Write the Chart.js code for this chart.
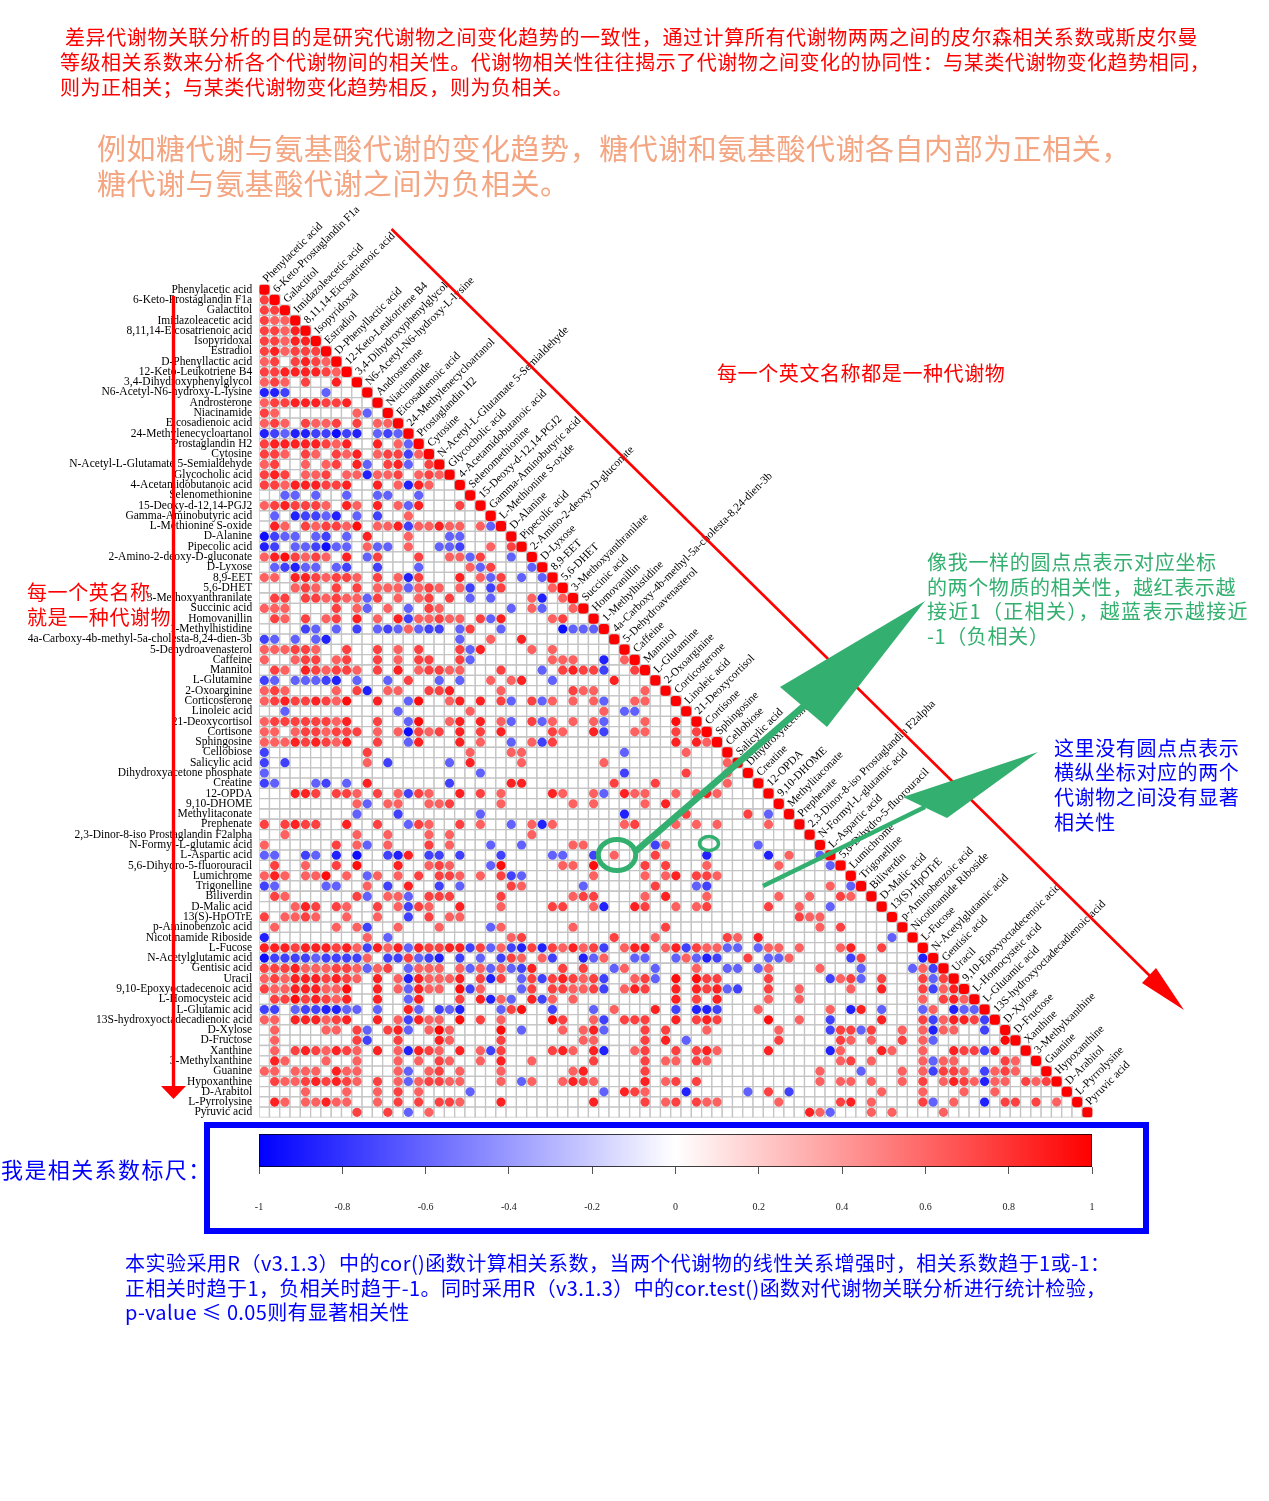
<!DOCTYPE html>
<html>
<head>
<meta charset="utf-8">
<script src="https://cdn.jsdelivr.net/npm/chart.js@4/dist/chart.umd.js"></script>
<style>
  html, body { margin: 0; padding: 0; background: #fff; }
  #page { position: relative; width: 1269px; height: 1501px; overflow: hidden; }
  canvas { position: absolute; }
  .note { position: absolute; white-space: nowrap; font-family: "Noto Sans CJK SC", sans-serif; line-height: 26px; }
  #frame { position: absolute; left: 204px; top: 1122px; width: 933px; height: 100px; border: 6px solid #0000ff; }
</style>
</head>
<body>
<div id="page">
  <canvas id="corr"></canvas>
  <div id="frame"></div>
  <canvas id="scaleBar"></canvas>
  <div id="notes"></div>
</div>
<script>
// metabolite names, same order on both axes
const names = [
  'Phenylacetic acid', '6-Keto-Prostaglandin F1a', 'Galactitol', 'Imidazoleacetic acid', '8,11,14-Eicosatrienoic acid',
  'Isopyridoxal', 'Estradiol', 'D-Phenyllactic acid', '12-Keto-Leukotriene B4', '3,4-Dihydroxyphenylglycol',
  'N6-Acetyl-N6-hydroxy-L-lysine', 'Androsterone', 'Niacinamide', 'Eicosadienoic acid', '24-Methylenecycloartanol',
  'Prostaglandin H2', 'Cytosine', 'N-Acetyl-L-Glutamate 5-Semialdehyde', 'Glycocholic acid', '4-Acetamidobutanoic acid',
  'Selenomethionine', '15-Deoxy-d-12,14-PGJ2', 'Gamma-Aminobutyric acid', 'L-Methionine S-oxide', 'D-Alanine',
  'Pipecolic acid', '2-Amino-2-deoxy-D-gluconate', 'D-Lyxose', '8,9-EET', '5,6-DHET',
  '3-Methoxyanthranilate', 'Succinic acid', 'Homovanillin', '1-Methylhistidine', '4a-Carboxy-4b-methyl-5a-cholesta-8,24-dien-3b',
  '5-Dehydroavenasterol', 'Caffeine', 'Mannitol', 'L-Glutamine', '2-Oxoarginine',
  'Corticosterone', 'Linoleic acid', '21-Deoxycortisol', 'Cortisone', 'Sphingosine',
  'Cellobiose', 'Salicylic acid', 'Dihydroxyacetone phosphate', 'Creatine', '12-OPDA',
  '9,10-DHOME', 'Methylitaconate', 'Prephenate', '2,3-Dinor-8-iso Prostaglandin F2alpha', 'N-Formyl-L-glutamic acid',
  'L-Aspartic acid', '5,6-Dihydro-5-fluorouracil', 'Lumichrome', 'Trigonelline', 'Biliverdin',
  'D-Malic acid', '13(S)-HpOTrE', 'p-Aminobenzoic acid', 'Nicotinamide Riboside', 'L-Fucose',
  'N-Acetylglutamic acid', 'Gentisic acid', 'Uracil', '9,10-Epoxyoctadecenoic acid', 'L-Homocysteic acid',
  'L-Glutamic acid', '13S-hydroxyoctadecadienoic acid', 'D-Xylose', 'D-Fructose', 'Xanthine',
  '3-Methylxanthine', 'Guanine', 'Hypoxanthine', 'D-Arabitol', 'L-Pyrrolysine', 'Pyruvic acid'
];

// significant correlations per row, "column:r in percent"
const corrRows = [
  '0:100',
  '0:75 1:100',
  '0:75 1:75 2:100',
  '0:75 1:62 2:62 3:100',
  '0:75 1:75 2:62 3:87 4:100',
  '0:75 1:75 2:62 3:87 4:87 5:100',
  '0:75 1:87 2:62 3:75 4:75 5:75 6:100',
  '0:62 1:75 3:75 4:87 5:75 6:62 7:100',
  '0:75 1:75 2:87 3:87 4:87 5:87 6:75 7:62 8:100',
  '0:62 1:75 2:62 4:75 7:87 9:100',
  '0:-87 1:-87 2:-75 6:-62 10:100',
  '0:62 1:75 2:75 3:87 4:87 5:87 6:75 7:75 8:87 11:100',
  '0:75 1:62 9:62 10:-62 12:100',
  '0:62 1:75 2:62 4:75 5:62 6:62 7:75 9:75 11:62 12:62 13:100',
  '0:-87 1:-75 2:-62 3:-87 4:-87 5:-75 6:-75 7:-95 8:-75 9:-87 11:-62 12:-75 13:-62 14:100',
  '0:75 1:87 2:87 3:87 4:87 5:87 6:75 7:62 8:87 11:87 13:62 14:-62 15:100',
  '0:75 1:75 2:62 4:75 5:62 7:75 8:62 9:87 11:62 12:75 13:75 14:-75 15:62 16:100',
  '0:62 1:75 4:62 6:62 7:75 9:87 10:-62 12:75 13:87 14:-62 16:75 17:100',
  '0:75 1:87 2:75 4:62 5:62 6:75 8:62 9:62 10:-87 11:62 12:62 13:75 15:62 16:75 17:62 18:100',
  '0:75 1:75 2:62 3:87 4:87 5:87 6:75 7:75 8:87 11:87 13:62 14:-87 15:87 16:62 19:100',
  '2:-62 3:-62 5:-62 8:-62 11:-62 12:-62 15:-62 20:100',
  '0:62 1:75 2:87 3:75 4:75 5:75 6:62 8:87 9:62 11:87 13:62 14:-62 15:87 19:75 21:100',
  '1:-62 3:-87 4:-75 5:-75 6:-62 7:-87 9:-62 11:-75 14:62 22:100',
  '1:87 2:62 4:75 5:62 6:75 7:75 8:62 9:95 11:62 12:62 13:87 14:-75 15:62 16:62 17:87 18:62 19:62 21:62 22:-62 23:100',
  '0:-95 1:-75 2:-62 3:-62 5:-62 6:-75 8:-62 10:87 14:62 18:-62 19:-62 24:100',
  '0:-87 1:-75 3:-62 4:-62 5:-75 6:-95 7:-62 8:-62 10:62 11:-62 12:-62 14:62 17:-62 18:-62 19:-75 22:62 24:75 25:100',
  '0:62 1:87 2:95 3:75 4:62 5:75 6:62 8:87 10:-62 11:75 15:75 18:62 19:62 20:-62 21:75 24:-62 26:100',
  '1:-62 2:-75 3:-87 4:-62 5:-62 7:-62 8:-75 11:-75 15:-62 20:62 21:-62 22:75 26:-62 27:100',
  '0:62 1:62 3:87 4:87 5:75 6:62 7:75 8:75 9:62 11:75 13:62 14:-87 15:75 19:87 21:62 22:-62 23:75 25:-62 27:-62 28:100',
  '3:62 4:75 5:62 7:75 9:75 11:62 12:62 13:62 14:-62 15:62 16:75 17:62 19:62 20:-75 22:-75 23:75 28:62 29:100',
  '1:75 2:75 4:75 5:75 6:62 7:75 8:62 9:62 10:-62 11:75 13:62 15:62 16:75 18:75 20:-62 22:-62 26:62 27:-87 29:62 30:100',
  '0:62 1:62 2:62 7:75 9:62 10:-62 12:62 14:-62 16:75 17:62 24:-62 26:62 27:-62 30:62 31:100',
  '1:75 2:62 4:75 6:62 7:75 9:87 11:62 13:87 14:-75 15:62 16:62 17:75 18:62 19:62 21:75 22:-62 23:87 28:62 29:75 32:100',
  '4:-75 5:-62 7:-62 9:-75 11:-62 12:-75 13:-62 14:62 15:-62 16:-75 17:-75 19:-62 20:75 23:-62 29:-95 30:-62 31:-62 32:-62 33:100',
  '0:-75 1:-62 3:-62 5:-62 6:-87 19:-62 22:62 25:87 34:100',
  '0:62 1:62 2:62 3:75 4:75 5:62 8:75 11:75 13:62 15:75 19:75 20:-62 21:87 26:62 28:62 35:100',
  '0:62 3:62 4:75 5:75 7:62 8:75 11:75 13:62 15:75 16:75 19:75 20:-62 28:62 29:62 30:62 33:-87 35:62 36:100',
  '1:75 2:62 4:87 5:75 6:62 7:75 8:75 9:62 11:75 13:87 15:62 16:75 17:75 18:62 19:62 23:75 27:-62 29:75 30:87 31:75 32:75 33:-75 36:75 37:100',
  '0:-75 1:-62 3:-62 4:-62 5:-62 6:-75 7:-87 9:-62 12:-62 14:75 17:-62 19:-62 22:62 24:62 25:87 28:-62 34:87 38:100',
  '0:62 1:75 2:62 7:62 9:75 10:-87 12:62 13:62 16:75 17:75 18:87 23:62 30:75 31:62 32:62 37:62 39:100',
  '0:62 1:75 2:87 3:75 4:75 5:87 6:75 7:62 8:95 11:87 14:-62 15:95 18:62 19:87 21:87 23:75 24:-62 26:75 27:-62 28:62 30:62 32:62 33:-62 36:62 37:62 40:100',
  '2:-62 13:-62 20:62 33:62 35:-62 36:-62 41:100',
  '0:62 1:75 2:75 3:75 4:75 5:75 6:75 7:62 8:87 11:75 14:-62 15:95 18:62 19:87 21:87 23:62 24:-62 26:75 27:-62 28:62 30:62 32:62 33:-62 37:62 40:95 42:100',
  '0:62 1:62 3:62 4:75 5:75 6:62 7:75 8:75 9:75 11:62 13:62 14:-95 15:75 16:62 17:75 19:87 21:75 23:87 28:75 29:62 32:87 33:-75 36:62 37:62 40:75 42:75 43:100',
  '0:62 1:62 2:62 3:87 4:75 5:87 6:75 7:62 8:87 11:75 14:-62 15:87 19:87 21:62 24:-62 26:62 27:-75 28:75 40:87 42:87 43:62 44:100',
  '0:-75 10:75 20:62 24:62 25:62 35:-62 41:62 45:100',
  '0:-75 2:-75 10:62 12:-75 18:-62 20:87 25:62 33:62 45:62 46:100',
  '0:-62 21:-62 35:-75 41:75 45:62 47:100',
  '0:-75 1:-62 5:-62 6:-75 8:-62 10:87 18:-75 24:87 25:87 34:75 38:75 45:62 48:100',
  '3:87 4:87 5:75 7:75 8:75 9:62 11:75 13:62 14:-75 15:75 16:62 19:87 21:75 23:62 28:87 29:62 32:62 33:-62 35:87 36:62 37:62 40:62 42:62 43:87 44:62 49:100',
  '9:62 10:-62 12:62 13:62 16:62 17:62 18:75 23:62 30:62 32:62 37:62 39:87 50:100',
  '9:-62 13:-75 21:-62 35:-87 41:75 47:75 49:-62 51:100',
  '0:75 2:75 3:87 4:75 5:75 8:87 11:75 14:-62 15:75 16:62 19:75 21:62 24:-62 26:62 27:-87 28:62 35:62 36:75 40:62 42:62 44:62 49:62 52:100',
  '2:62 9:62 12:62 16:62 18:62 26:62 53:100',
  '0:62 7:75 9:62 10:-62 12:62 16:75 18:62 22:-62 25:-62 30:62 31:62 38:-75 39:62 48:-62 54:100',
  '0:-62 1:-62 4:-75 5:-62 7:-87 9:-95 12:-75 13:-87 14:87 16:-75 17:-75 19:-75 23:-75 28:-62 29:-62 32:-75 34:62 38:75 43:-87 49:-87 51:62 54:-62 55:100',
  '1:75 4:62 7:75 9:95 13:87 16:62 17:75 18:62 22:-62 23:95 29:62 30:62 32:95 37:75 39:75 43:62 50:62 55:-62 56:100',
  '0:62 1:87 2:62 4:62 5:62 6:95 8:62 10:-62 11:62 13:62 15:75 17:75 18:75 19:62 21:62 23:75 24:-75 25:-62 32:62 37:62 39:62 40:87 42:75 43:75 44:62 57:100',
  '0:-75 1:-62 6:-62 7:-62 10:62 12:-75 14:87 17:-75 19:-62 24:75 25:62 31:-62 38:75 42:-62 43:-75 55:62 57:-62 58:100',
  '1:75 2:62 9:75 10:-62 12:62 13:62 14:-62 16:75 17:75 18:75 23:75 30:62 31:75 32:75 37:62 39:87 43:62 50:62 53:62 56:75 57:62 59:100',
  '3:62 4:87 5:75 7:75 8:62 11:75 13:62 14:-75 15:75 16:62 19:87 23:62 28:75 29:75 32:62 33:-87 36:87 37:75 40:62 42:62 43:75 49:75 52:62 55:-62 60:100',
  '0:75 2:62 3:62 4:75 5:62 8:62 11:62 14:-75 16:75 18:62 19:62 52:75 53:62 54:62 61:100',
  '1:62 7:62 9:62 10:-75 13:62 17:62 22:-62 23:62 30:62 39:75 54:62 56:75 62:100',
  '0:-87 10:62 12:-62 24:62 25:75 34:75 38:62 45:75 46:62 48:87 61:-62 63:100',
  '0:87 1:87 2:87 3:75 4:87 5:87 6:87 7:75 8:87 9:62 10:-75 11:87 12:62 13:87 14:-62 15:87 16:75 17:75 18:87 19:87 20:-75 21:75 22:-62 23:62 24:-75 25:-87 26:75 27:-87 28:75 29:62 30:87 31:62 32:75 33:-75 35:62 36:87 37:87 39:62 40:87 41:-75 42:75 43:62 44:62 45:-62 46:-62 48:-62 49:62 50:62 52:62 56:62 57:87 60:75 64:100',
  '0:-95 1:-75 2:-75 3:-75 4:-75 5:-62 6:-75 7:-75 8:-75 9:-75 10:62 12:-75 13:-75 14:75 15:-62 16:-75 17:-87 19:-75 21:-62 23:-75 24:75 25:62 27:62 28:-75 31:-87 32:-62 33:62 36:-62 37:-62 40:-62 41:62 42:-62 43:-87 44:-75 47:75 49:-62 50:-62 51:62 57:-75 58:75 64:-87 65:100',
  '0:75 1:75 2:75 3:87 4:62 5:62 6:62 7:75 8:75 9:62 10:-62 11:62 12:75 14:-62 15:62 16:62 17:62 19:62 20:-62 21:62 22:-62 23:62 24:-62 25:-75 26:87 29:75 31:75 34:-62 35:62 38:-62 42:62 45:-62 46:-62 48:-62 49:62 54:62 58:-62 63:-62 64:62 65:-75 66:100',
  '0:62 1:75 2:62 3:87 4:87 5:87 6:75 7:87 8:75 9:62 11:87 13:62 14:-87 15:87 16:62 17:62 18:62 19:87 21:75 22:-87 23:75 25:-62 26:75 27:-75 28:75 29:87 30:75 31:62 32:75 33:-75 36:62 37:75 38:-62 40:95 42:95 43:75 44:75 49:75 55:-75 56:62 57:75 58:-62 60:75 64:75 65:-62 66:75 67:100',
  '0:75 1:62 2:62 3:87 4:87 5:87 6:62 7:62 8:95 11:87 13:62 14:-62 15:87 16:62 17:62 19:95 20:-75 21:62 25:-62 26:75 28:75 29:75 30:62 31:62 32:75 33:-75 35:62 36:87 37:75 40:87 42:87 43:75 44:87 45:-62 46:-75 49:75 52:62 57:62 60:87 64:75 65:-75 66:62 67:87 68:100',
  '1:75 2:75 3:95 4:75 5:87 6:75 7:62 8:87 11:87 14:-62 15:87 19:75 21:87 22:-87 23:62 24:-62 26:87 27:-75 28:62 30:62 40:87 42:75 44:87 49:62 52:62 64:62 66:75 67:87 68:62 69:100',
  '0:-75 1:-75 3:-62 4:-75 5:-75 6:-87 7:-87 8:-62 9:-62 11:-62 14:87 15:-62 17:-75 18:-62 19:-87 23:-62 24:75 25:95 28:-75 32:-62 34:62 38:87 40:-75 42:-87 43:-87 44:-75 48:62 55:62 57:-87 58:87 60:-62 64:-62 65:62 67:-87 68:-62 69:-62 70:100',
  '0:62 1:62 3:87 4:87 5:87 6:62 7:75 8:87 11:87 13:62 14:-75 15:87 16:62 17:62 19:95 21:75 23:62 28:95 29:75 32:62 33:-75 35:75 36:75 37:75 40:87 42:75 43:87 44:75 49:95 52:62 55:-75 60:87 64:75 65:-75 66:62 67:87 68:87 69:75 70:-75 71:100',
  '1:62 6:62 7:62 9:75 10:-62 12:75 13:87 14:-62 16:62 17:98 18:62 23:95 25:-62 29:62 31:62 32:87 33:-62 37:75 39:75 43:62 50:62 55:-75 56:75 57:75 58:-62 59:75 62:62 64:62 65:-87 66:62 67:62 70:-75 72:100',
  '1:62 9:75 10:-75 13:75 17:87 18:62 23:75 31:62 32:62 37:75 39:87 41:-62 50:75 56:75 57:62 59:62 62:75 64:62 65:-62 72:98 73:100',
  '1:62 3:75 4:87 5:75 6:62 7:87 8:75 9:62 11:87 13:62 14:-87 15:87 16:75 17:62 19:87 21:62 22:-75 23:75 28:75 29:87 30:62 32:87 33:-87 36:62 37:75 40:75 42:75 43:87 44:62 49:87 55:-87 56:62 60:87 61:62 64:62 67:87 68:75 69:75 70:-75 71:87 74:100',
  '1:87 2:62 6:62 9:62 13:62 15:62 17:75 18:62 21:62 23:87 26:62 32:75 37:75 39:62 40:62 42:75 43:62 56:62 57:75 59:62 64:62 65:-62 66:62 67:62 72:75 73:62 75:100',
  '0:62 1:62 3:62 4:62 5:62 7:87 8:62 9:62 13:62 14:-62 16:62 17:75 19:62 23:62 30:62 31:87 37:75 54:62 58:-62 62:62 64:62 65:-75 66:75 67:75 68:62 70:-75 71:62 72:75 73:62 76:100',
  '1:75 2:62 3:62 4:75 5:87 6:75 7:87 8:75 9:62 11:75 13:62 14:-62 15:62 16:75 17:75 18:62 19:62 23:62 25:-62 26:62 29:62 30:87 31:75 32:62 37:87 39:62 40:75 42:75 54:62 56:62 57:62 59:62 62:62 64:75 66:62 67:87 68:75 69:62 70:-87 71:62 72:62 74:75 75:62 76:75 77:100',
  '4:62 8:62 11:62 13:75 15:62 20:-62 33:-62 35:87 36:75 37:62 41:-87 47:-62 49:75 51:-75 60:62 64:62 68:62 71:62 78:100',
  '1:87 2:62 4:62 5:62 6:87 7:62 8:62 11:62 13:75 15:75 17:75 18:75 19:62 23:87 32:87 37:75 39:62 40:75 42:75 43:62 44:62 50:62 56:75 57:87 59:62 64:75 65:-62 67:62 70:-87 72:75 73:75 75:75 77:62 79:100',
  '9:75 12:75 14:-62 16:62 53:87 54:62 55:-62 59:62 61:62 66:62 80:100'
];

// colour scale ticks
const scaleTicks = [-1, -0.8, -0.6, -0.4, -0.2, 0, 0.2, 0.4, 0.6, 0.8, 1];

// text around the chart: [text, left, line centre y, font size, letter spacing, colour]
const noteLines = [
  ['差异代谢物关联分析的目的是研究代谢物之间变化趋势的一致性，通过计算所有代谢物两两之间的皮尔森相关系数或斯皮尔曼', 65, 37, 20, 0.6, '#ff0000'],
  ['等级相关系数来分析各个代谢物间的相关性。代谢物相关性往往揭示了代谢物之间变化的协同性：与某类代谢物变化趋势相同，', 60, 62, 20, 0.54, '#ff0000'],
  ['则为正相关；与某类代谢物变化趋势相反，则为负相关。', 60, 87, 20, 0.52, '#ff0000'],
  ['例如糖代谢与氨基酸代谢的变化趋势，糖代谢和氨基酸代谢各自内部为正相关，', 97, 147, 29, 0.54, '#f4a582'],
  ['糖代谢与氨基酸代谢之间为负相关。', 97, 182, 29, 0.54, '#f4a582'],
  ['每一个英文名称都是一种代谢物', 717, 373, 20, 0.6, '#ff0000'],
  ['每一个英名称', 27, 592, 20, 0.6, '#ff0000'],
  ['就是一种代谢物', 27, 617, 20, 0.6, '#ff0000'],
  ['像我一样的圆点点表示对应坐标', 927, 562, 20, 0.7, '#33b06f'],
  ['的两个物质的相关性，越红表示越', 927, 587, 20, 0.6, '#33b06f'],
  ['接近1（正相关），越蓝表示越接近', 927, 611, 20, 1.3, '#33b06f'],
  ['-1（负相关）', 927, 636, 20, 0.6, '#33b06f'],
  ['这里没有圆点点表示', 1054, 748, 20, 0.6, '#0000ff'],
  ['横纵坐标对应的两个', 1054, 772, 20, 0.6, '#0000ff'],
  ['代谢物之间没有显著', 1054, 797, 20, 0.6, '#0000ff'],
  ['相关性', 1054, 822, 20, 0.6, '#0000ff'],
  ['我是相关系数标尺：', 1, 1168, 22, 1.4, '#0000ff'],
  ['本实验采用R（v3.1.3）中的cor()函数计算相关系数，当两个代谢物的线性关系增强时，相关系数趋于1或-1：', 125, 1263, 20, 0.46, '#0000ff'],
  ['正相关时趋于1，负相关时趋于-1。同时采用R（v3.1.3）中的cor.test()函数对代谢物关联分析进行统计检验，', 125, 1288, 20, 0.4, '#0000ff'],
  ['p-value ≤ 0.05则有显著相关性', 125, 1312, 20, 0.35, '#0000ff']
];

const serif = '"Liberation Serif", serif';
const gridColor = '#c4c4c4';
const green = '#33b06f';
const red = '#ff0000';

function corrColor(r) {
  const c = Math.round(255 * (1 - Math.abs(r)));
  return r >= 0 ? `rgb(255,${c},${c})` : `rgb(${c},${c},255)`;
}

const cells = [];
const dots = [];
const diagonal = [];
corrRows.forEach((row, y) => {
  for (let x = 0; x <= y; x++) cells.push({ x, y });
  row.split(' ').forEach(tok => {
    const [x, pct] = tok.split(':').map(Number);
    (x === y ? diagonal : dots).push({ x, y, v: pct / 100 });
  });
});

// rotated names along the diagonal
const diagonalLabels = {
  id: 'diagonalLabels',
  afterDatasetsDraw(chart) {
    const { ctx, scales } = chart;
    ctx.save();
    ctx.font = '11.3px ' + serif;
    ctx.fillStyle = '#000';
    ctx.textAlign = 'left';
    ctx.textBaseline = 'middle';
    names.forEach((name, i) => {
      ctx.save();
      ctx.translate(scales.x.getPixelForValue(i) + 0.5, scales.y.getPixelForValue(i) - 9);
      ctx.rotate(-Math.PI / 4);
      ctx.fillText(name, 0, 0);
      ctx.restore();
    });
    ctx.restore();
  }
};

function polygon(ctx, pts, color) {
  ctx.fillStyle = color;
  ctx.beginPath();
  pts.forEach((p, i) => (i ? ctx.lineTo(p[0], p[1]) : ctx.moveTo(p[0], p[1])));
  ctx.closePath();
  ctx.fill();
}

function stroke(ctx, from, to, color, width) {
  ctx.strokeStyle = color;
  ctx.lineWidth = width;
  ctx.beginPath();
  ctx.moveTo(from[0], from[1]);
  ctx.lineTo(to[0], to[1]);
  ctx.stroke();
}

// hand drawn arrows and circles of the reference
const markup = {
  id: 'markup',
  afterDraw(chart) {
    const ctx = chart.ctx;
    ctx.save();
    stroke(ctx, [173.5, 296], [173.5, 1090], red, 3.4);
    polygon(ctx, [[161, 1086], [186, 1086], [173.5, 1099]], red);
    stroke(ctx, [391.5, 229], [1150, 976], red, 2.6);
    polygon(ctx, [[1156, 968], [1142, 983], [1184, 1010]], red);

    stroke(ctx, [636, 851], [805, 705], green, 6.5);
    polygon(ctx, [[780, 687], [925, 601], [827, 727]], green);
    stroke(ctx, [763, 886], [925, 807], green, 4.5);
    polygon(ctx, [[903, 797], [1038, 752], [947, 818]], green);

    ctx.strokeStyle = green;
    ctx.lineWidth = 5;
    ctx.beginPath();
    ctx.ellipse(617, 855, 18.7, 15.6, 0, 0, Math.PI * 2);
    ctx.stroke();
    ctx.lineWidth = 3.5;
    ctx.beginPath();
    ctx.ellipse(709, 843.5, 9.5, 7, 0, 0, Math.PI * 2);
    ctx.stroke();
    ctx.restore();
  }
};

const corrCanvas = document.getElementById('corr');
corrCanvas.width = 1269;
corrCanvas.height = 1501;

new Chart(corrCanvas, {
  type: 'scatter',
  data: {
    datasets: [
      // lower order is drawn on top
      {
        order: 3,
        data: cells,
        pointStyle: 'rect',
        pointRadius: 7.28,
        backgroundColor: '#fff',
        borderColor: gridColor,
        borderWidth: 1.3
      },
      {
        order: 2,
        data: dots,
        pointStyle: 'circle',
        pointRadius: 4.6,
        borderWidth: 0,
        backgroundColor: c => (c.raw ? corrColor(c.raw.v) : '#fff')
      },
      {
        order: 1,
        data: diagonal,
        pointStyle: 'rectRounded',
        pointRadius: 5.9,
        borderWidth: 0,
        backgroundColor: c => (c.raw ? corrColor(c.raw.v) : '#fff')
      }
    ]
  },
  options: {
    responsive: false,
    animation: false,
    events: [],
    layout: { padding: { top: 284.5, right: 176.4, bottom: 383.5, left: 0 } },
    plugins: { legend: { display: false }, tooltip: { enabled: false } },
    scales: {
      x: { type: 'linear', min: -0.5, max: 80.5, display: false },
      y: {
        type: 'linear',
        reverse: true,
        min: -0.5,
        max: 80.5,
        afterFit: s => { s.width = 259.2; },
        afterBuildTicks: s => { s.ticks = names.map((_, i) => ({ value: i })); },
        grid: { display: false, drawTicks: false },
        border: { display: false },
        ticks: {
          autoSkip: false,
          maxRotation: 0,
          padding: 7,
          color: '#000',
          font: { family: serif, size: 11.5 },
          callback: v => names[v]
        }
      }
    }
  },
  plugins: [diagonalLabels, markup]
});

// colour scale as a single floating bar on a linear axis
const barCanvas = document.getElementById('scaleBar');
barCanvas.width = 873;
barCanvas.height = 90;
barCanvas.style.left = '239px';
barCanvas.style.top = '1128px';

new Chart(barCanvas, {
  type: 'bar',
  data: {
    labels: ['r'],
    datasets: [{
      data: [[-1, 1]],
      barPercentage: 1,
      categoryPercentage: 1,
      borderColor: '#000',
      borderWidth: 1,
      borderSkipped: false,
      backgroundColor: c => {
        const area = c.chart.chartArea;
        if (!area) return '#fff';
        const g = c.chart.ctx.createLinearGradient(area.left, 0, area.right, 0);
        g.addColorStop(0, '#0000ff');
        g.addColorStop(0.5, '#ffffff');
        g.addColorStop(1, '#ff0000');
        return g;
      }
    }]
  },
  options: {
    indexAxis: 'y',
    responsive: false,
    animation: false,
    events: [],
    layout: { padding: { top: 6, left: 20, right: 20, bottom: 0 } },
    plugins: { legend: { display: false }, tooltip: { enabled: false } },
    scales: {
      y: { display: false },
      x: {
        type: 'linear',
        min: -1,
        max: 1,
        afterBuildTicks: s => { s.ticks = scaleTicks.map(value => ({ value })); },
        // tick padding would otherwise inset the bar on both sides
        afterFit: s => { s.height = 51; s.paddingLeft = 0; s.paddingRight = 0; },
        border: { display: false },
        grid: { drawOnChartArea: false, color: '#555', tickLength: 7, lineWidth: 1 },
        ticks: {
          autoSkip: false,
          maxRotation: 0,
          padding: 27,
          color: '#222',
          font: { family: serif, size: 10 },
          callback: v => String(v)
        }
      }
    }
  }
});

const notesBox = document.getElementById('notes');
noteLines.forEach(([text, left, cy, size, spacing, color]) => {
  const d = document.createElement('div');
  d.className = 'note';
  d.textContent = text;
  d.style.left = left + 'px';
  d.style.top = (cy - 13) + 'px';
  d.style.fontSize = size + 'px';
  d.style.letterSpacing = spacing + 'px';
  d.style.color = color;
  notesBox.appendChild(d);
});
</script>
</body>
</html>
